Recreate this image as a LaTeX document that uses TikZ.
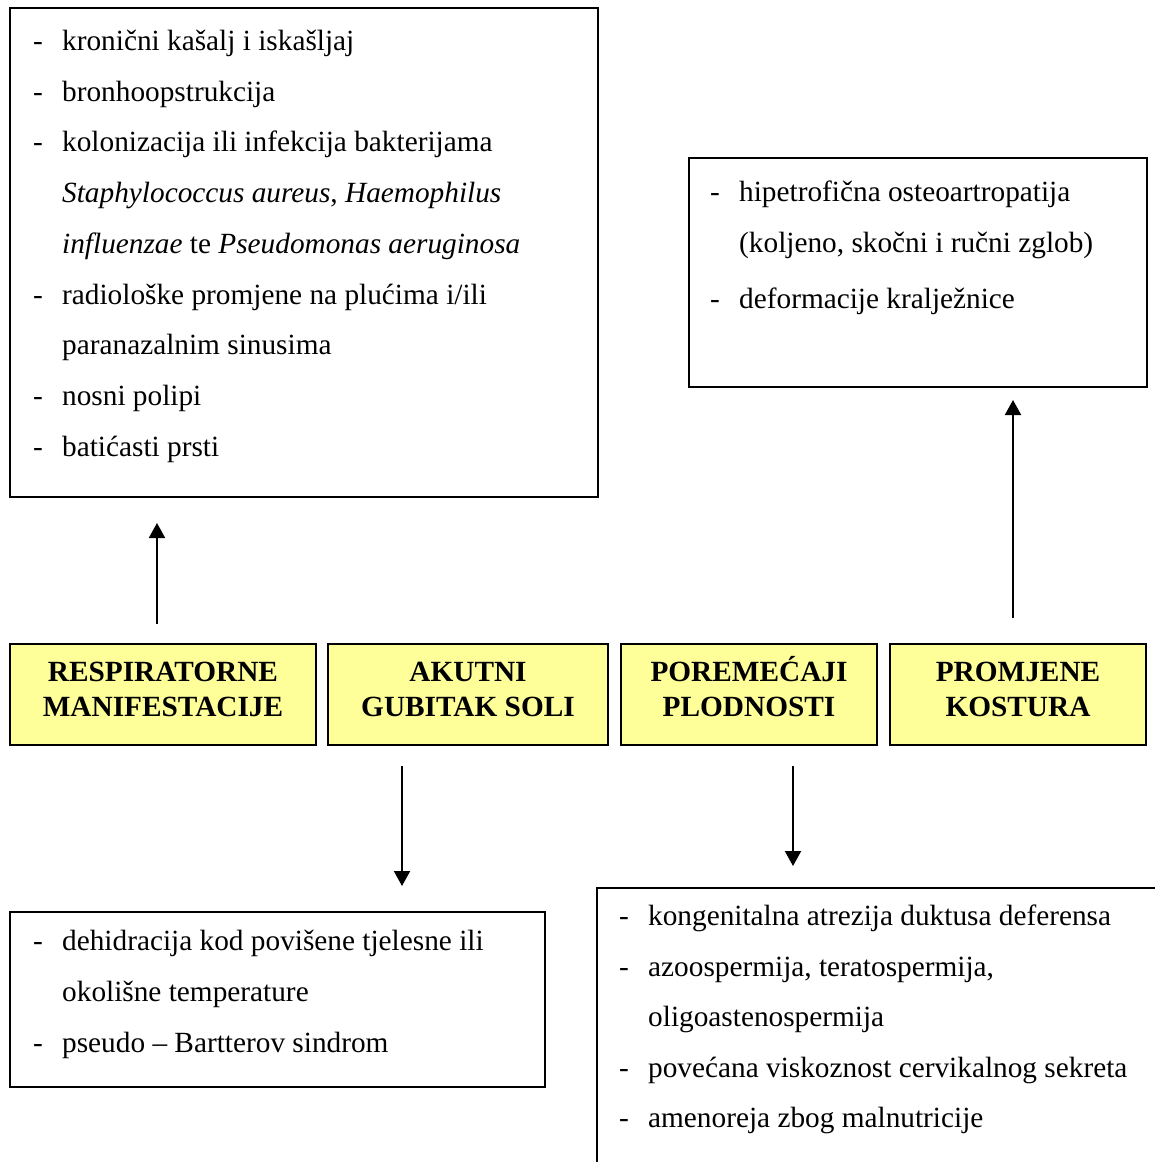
\documentclass[tikz,border=0pt]{standalone}
\usepackage{fontspec}
\setmainfont{Liberation Serif}
\usetikzlibrary{arrows.meta}
\definecolor{boxyellow}{RGB}{255,255,153}
\newcommand{\dsh}{\makebox[29pt][l]{-}}
\begin{document}
\begin{tikzpicture}[x=1pt,y=-1pt,
  every node/.style={font=\fontsize{29.3pt}{34.5pt}\selectfont},
  frame/.style={draw=black, line width=2pt, rectangle, inner sep=0pt, fill=white},
  ybox/.style={frame, fill=boxyellow},
  ylab/.style={font=\fontsize{29.3pt}{34.5pt}\selectfont\bfseries, align=center, anchor=base, inner sep=0pt},
  itm/.style={anchor=base west, inner sep=0pt},
  arr/.style={-{Triangle[width=16pt,length=15pt]}, line width=2pt}]
\useasboundingbox (0,0) rectangle (1155,1162);
\clip (0,0) rectangle (1155,1162);
\fill[white] (0,0) rectangle (1155,1162);

% boxes
\node[frame, minimum width=588pt, minimum height=489pt] (resL) at (304,252.5) {};
\node[frame, minimum width=458pt, minimum height=229pt] (kosL) at (918,272.5) {};
\node[frame, minimum width=535pt, minimum height=175pt] (solL) at (277.5,999.5) {};
\node[frame, minimum width=583pt, minimum height=312pt] (plodL) at (888.5,1044) {};

\node[ybox, minimum width=306pt, minimum height=101pt] (res) at (163,694.5) {};
\node[ybox, minimum width=280pt, minimum height=101pt] (sol) at (468,694.5) {};
\node[ybox, minimum width=256pt, minimum height=101pt] (plod) at (749,694.5) {};
\node[ybox, minimum width=256pt, minimum height=101pt] (kos) at (1018,694.5) {};

\node[ylab] (resT) at (163,716.2) {RESPIRATORNE\\MANIFESTACIJE};
\node[ylab] (solT) at (468,716.2) {AKUTNI\\GUBITAK SOLI};
\node[ylab] (plodT) at (749,716.2) {POREMEĆAJI\\PLODNOSTI};
\node[ylab] (kosT) at (1018,716.2) {PROMJENE\\KOSTURA};

% respiratory list
\node[itm] (r1) at (33,50.5) {\dsh kronični kašalj i iskašljaj};
\node[itm] (r2) at (33,101.2) {\dsh bronhoopstrukcija};
\node[itm] (r3) at (33,151.9) {\dsh kolonizacija ili infekcija bakterijama};
\node[itm] (r4) at (62,202.6) {\textit{Staphylococcus aureus}, \textit{Haemophilus}};
\node[itm] (r5) at (62,253.3) {\textit{influenzae} te \textit{Pseudomonas aeruginosa}};
\node[itm] (r6) at (33,304) {\dsh radiološke promjene na plućima i/ili};
\node[itm] (r7) at (62,354.7) {paranazalnim sinusima};
\node[itm] (r8) at (33,405.4) {\dsh nosni polipi};
\node[itm] (r9) at (33,456.1) {\dsh batićasti prsti};

% skeleton list
\node[itm] (k1) at (710,201.7) {\dsh hipetrofična osteoartropatija};
\node[itm] (k2) at (739,252) {(koljeno, skočni i ručni zglob)};
\node[itm] (k3) at (710,308) {\dsh deformacije kralježnice};

% salt list
\node[itm] (s1) at (33,950) {\dsh dehidracija kod povišene tjelesne ili};
\node[itm] (s2) at (62,1001) {okolišne temperature};
\node[itm] (s3) at (33,1052) {\dsh pseudo – Bartterov sindrom};

% fertility list
\node[itm] (p1) at (619,925.5) {\dsh kongenitalna atrezija duktusa deferensa};
\node[itm] (p2) at (619,976) {\dsh azoospermija, teratospermija,};
\node[itm] (p3) at (648,1026.5) {oligoastenospermija};
\node[itm] (p4) at (619,1077) {\dsh povećana viskoznost cervikalnog sekreta};
\node[itm] (p5) at (619,1127.5) {\dsh amenoreja zbog malnutricije};

% arrows
\coordinate (ax1) at (157,0);
\coordinate (ax2) at (402,0);
\coordinate (ax3) at (793,0);
\coordinate (ax4) at (1013,0);
\draw[arr, shorten <=19pt, shorten >=25pt] (res.north -| ax1) -- (resL.south -| ax1);
\draw[arr, shorten <=20pt, shorten >=25pt] (sol.south -| ax2) -- (solL.north -| ax2);
\draw[arr, shorten <=20pt, shorten >=21pt] (plod.south -| ax3) -- (plodL.north -| ax3);
\draw[arr, shorten <=25pt, shorten >=12pt] (kos.north -| ax4) -- (kosL.south -| ax4);
\end{tikzpicture}
\end{document}
